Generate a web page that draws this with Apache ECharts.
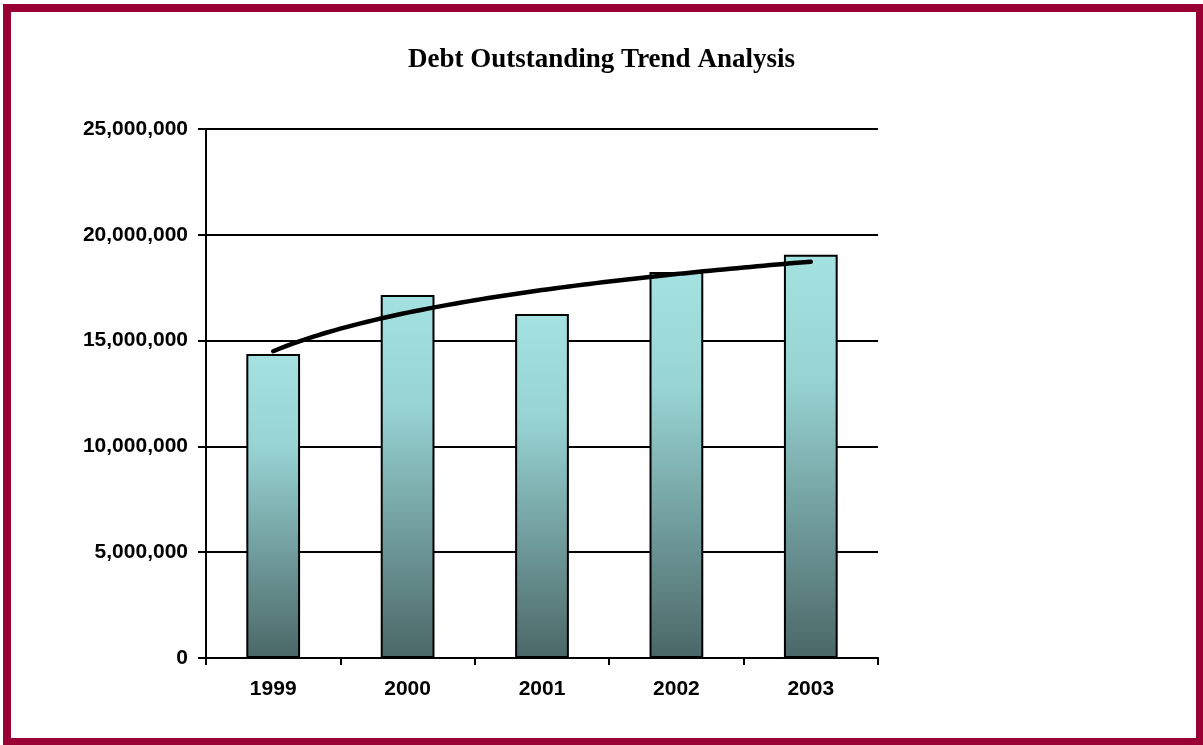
<!DOCTYPE html>
<html>
<head>
<meta charset="utf-8">
<script src="https://cdn.jsdelivr.net/npm/echarts@6/dist/echarts.min.js"></script>
<style>
  html, body { margin: 0; padding: 0; background: #ffffff; }
  #chart { width: 1203px; height: 745px; }
</style>
</head>
<body>
<div id="chart"></div>
<script>
// Debt outstanding by fiscal year
const years = ['1999', '2000', '2001', '2002', '2003'];
const debtOutstanding = [14370000, 17150000, 16260000, 18240000, 19060000];
const yTicks = [0, 5000000, 10000000, 15000000, 20000000, 25000000];

// Logarithmic trendline y = a + b*ln(x), least squares over x = 1..n
function logTrend(values) {
  const n = values.length;
  const lx = values.map((_, i) => Math.log(i + 1));
  const mx = lx.reduce((s, v) => s + v, 0) / n;
  const my = values.reduce((s, v) => s + v, 0) / n;
  let sxy = 0, sxx = 0;
  for (let i = 0; i < n; i++) {
    sxy += (lx[i] - mx) * (values[i] - my);
    sxx += (lx[i] - mx) * (lx[i] - mx);
  }
  const b = sxy / sxx;
  const a = my - b * mx;
  const pts = [];
  for (let x = 1; x <= n + 1e-9; x += 0.05) pts.push([x, a + b * Math.log(x)]);
  return pts;
}
const trendPoints = logTrend(debtOutstanding);

const chart = echarts.init(document.getElementById('chart'), null, { renderer: 'canvas' });
const labelFont = { fontFamily: 'Liberation Sans, Arial, sans-serif', fontWeight: 'bold', fontSize: 21, color: '#000' };

chart.setOption({
  animation: false,
  backgroundColor: '#ffffff',
  title: {
    text: 'Debt Outstanding Trend Analysis',
    left: 'center',
    top: 42,
    textStyle: { fontFamily: 'Liberation Serif, Times New Roman, serif', fontWeight: 'bold', fontSize: 27, color: '#000' }
  },
  graphic: [{
    type: 'rect',
    shape: { x: 7, y: 8, width: 1193, height: 734 },
    style: { fill: 'none', stroke: '#990033', lineWidth: 8 },
    silent: true
  }],
  grid: { left: 206, right: 325, top: 129, bottom: 87 },
  xAxis: [{
    type: 'category',
    data: years,
    boundaryGap: true,
    axisLine: { show: true, lineStyle: { color: '#000', width: 2 } },
    axisTick: { show: true, length: 7, lineStyle: { color: '#000', width: 2 } },
    axisLabel: Object.assign({ margin: 21 }, labelFont),
    splitLine: { show: false }
  }, {
    type: 'value',
    min: 0.5,
    max: years.length + 0.5,
    show: false
  }],
  yAxis: {
    type: 'value',
    min: yTicks[0],
    max: yTicks[yTicks.length - 1],
    interval: yTicks[1] - yTicks[0],
    axisLine: { show: true, lineStyle: { color: '#000', width: 2 } },
    axisTick: { show: true, length: 8, lineStyle: { color: '#000', width: 2 } },
    axisLabel: Object.assign({
      margin: 18,
      formatter: v => v.toLocaleString('en-US')
    }, labelFont),
    splitLine: { show: true, lineStyle: { color: '#000', width: 2 } }
  },
  series: [{
    type: 'bar',
    xAxisIndex: 0,
    data: debtOutstanding,
    barWidth: '40%',
    itemStyle: {
      color: new echarts.graphic.LinearGradient(0, 0, 0, 1, [
        { offset: 0, color: '#a4e1e1' },
        { offset: 0.3, color: '#98d4d4' },
        { offset: 1, color: '#4b6767' }
      ]),
      borderColor: '#000',
      borderWidth: 2
    }
  }, {
    type: 'line',
    xAxisIndex: 1,
    data: trendPoints,
    showSymbol: false,
    smooth: false,
    lineStyle: { color: '#000', width: 4.5, cap: 'round' },
    z: 5
  }]
});
</script>
</body>
</html>
